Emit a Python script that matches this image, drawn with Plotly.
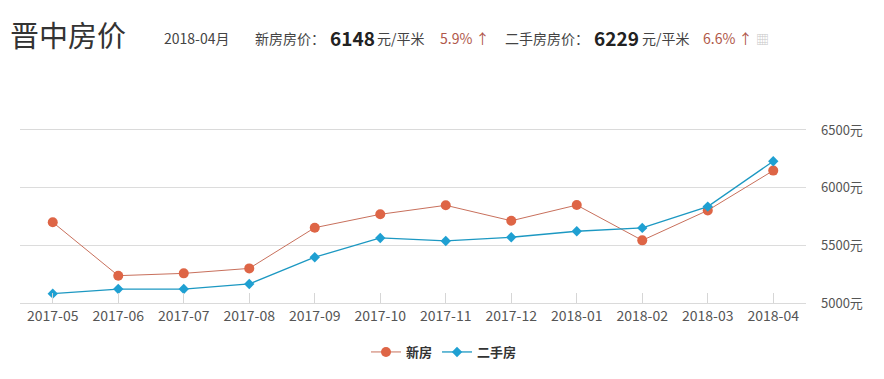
import plotly.graph_objects as go

months = ["2017-05", "2017-06", "2017-07", "2017-08", "2017-09", "2017-10",
          "2017-11", "2017-12", "2018-01", "2018-02", "2018-03", "2018-04"]
new_home = [5700, 5237, 5257, 5300, 5653, 5769, 5847, 5713, 5849, 5543, 5803, 6148]
second_hand = [5081, 5121, 5121, 5165, 5397, 5564, 5538, 5570, 5622, 5651, 5836, 6229]
y_ticks = [5000, 5500, 6000, 6500]
y_tick_labels = ["5000元", "5500元", "6000元", "6500元"]

OFF = 8  # page body margin
W, H = 884 - 2 * OFF, 379 - 2 * OFF
L, T = 20 - OFF, 130 - OFF
R = W - (806 - OFF)
B = H - (303 - OFF)
PW, PH = W - L - R, H - T - B

def px(x):
    return (x - OFF - L) / PW

def py(y):
    return (H - B - (y - OFF)) / PH

FONT = "Noto Sans CJK SC, Noto Sans, sans-serif"
RED = "#de6546"
RED_LINE = "#c8705c"
BLUE = "#1fa0d2"
BLUE_LINE = "#1c98c2"

fig = go.Figure()
fig.add_trace(go.Scatter(
    x=months, y=new_home, name="<b>新房</b>", mode="lines+markers",
    line=dict(color=RED_LINE, width=1),
    marker=dict(color=RED, size=10, symbol="circle"),
))
fig.add_trace(go.Scatter(
    x=months, y=second_hand, name="<b>二手房</b>", mode="lines+markers",
    line=dict(color=BLUE_LINE, width=1.3),
    marker=dict(color=BLUE, size=8, symbol="diamond"),
))

annos = []
def txt(x, y, s, size, color="#333", bold=False):
    annos.append(dict(
        x=px(x), y=py(y), xref="paper", yref="paper", xanchor="left", yanchor="middle",
        text=f"<b>{s}</b>" if bold else s, showarrow=False,
        font=dict(size=size, color=color, family=FONT),
    ))

txt(8, 34, "晋中房价", 29, "#333")
txt(162, 38, "2018-04月", 14, "#444")
txt(253, 38, "新房房价：", 14, "#444")
txt(328, 37, "6148", 19, "#222", bold=True)
txt(375, 38, "元/平米", 14, "#444")
txt(438, 38, "5.9% ↑", 14, "#b0584a")
txt(503, 38, "二手房房价：", 14, "#444")
txt(592, 37, "6229", 19, "#222", bold=True)
txt(640, 38, "元/平米", 14, "#444")
txt(701, 38, "6.6% ↑", 14, "#b0584a")
txt(754, 38, "▦", 13, "#c8c8c8")

fig.update_layout(
    width=W, height=H,
    margin=dict(l=L, r=R, t=T, b=B),
    paper_bgcolor="white", plot_bgcolor="white",
    font=dict(family=FONT, color="#555"),
    showlegend=True,
    legend=dict(
        orientation="h", xref="container", yref="container",
        x=(444 - OFF) / W, xanchor="center", y=1 - (352 - OFF) / H, yanchor="middle",
        font=dict(size=13, color="#333", family=FONT),
        itemwidth=30,
    ),
    annotations=annos,
    xaxis=dict(
        type="category", range=[-0.5, 11.5],
        showgrid=False, showline=True, mirror=True, linecolor="#dadada", linewidth=1,
        ticks="inside", ticklen=10, tickcolor="#d6d6d6",
        tickfont=dict(size=14, color="#555", family=FONT),
        fixedrange=True,
    ),
    yaxis=dict(
        side="right", range=[5000, 6500], tickvals=y_ticks, ticktext=y_tick_labels,
        showgrid=True, gridcolor="#dcdcdc", gridwidth=1, zeroline=False,
        showline=False, ticks="", ticklabelstandoff=14,
        tickfont=dict(size=13, color="#555", family=FONT),
        fixedrange=True,
    ),
)

fig.write_html("out.html")
